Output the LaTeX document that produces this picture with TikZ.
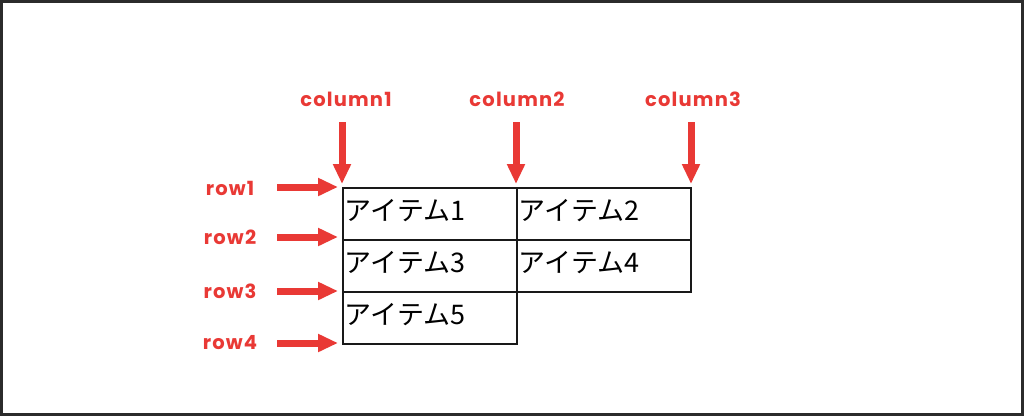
\documentclass[tikz,border=0pt]{standalone}
\usepackage{fontspec}
\newfontfamily\jpfont{Noto Sans CJK JP}
\newfontfamily\lblfont{Poppins}[LetterSpace=6]
\usetikzlibrary{arrows.meta}
\definecolor{lblred}{RGB}{233,57,53}
\definecolor{framegray}{RGB}{43,43,43}
\begin{document}
\begin{tikzpicture}[x=1pt,y=-1pt,
  cell/.style={draw=black!90, line width=1.8pt, minimum width=174pt, minimum height=52pt,
    text width=170pt, inner sep=2pt, align=left, anchor=north west,
    font=\jpfont\fontsize{27}{30}\selectfont},
  lbl/.style={text=lblred, font=\lblfont\bfseries\fontsize{19.5}{22}\selectfont, inner sep=0pt},
  redarrow/.style={draw=lblred, line width=7pt, -{Triangle[width=17pt,length=20pt]}}]
\useasboundingbox (0,0) rectangle (1024,416);
\fill[white] (0,0) rectangle (1024,416);
\draw[framegray, line width=3pt] (1.5,1.5) rectangle (1022.5,414.5);

% cells
\node[cell] (c1) at (342,187) {\raisebox{7pt}{アイテム1}};
\node[cell] (c2) at (516,187) {\raisebox{7pt}{アイテム2}};
\node[cell] (c3) at (342,239) {\raisebox{7pt}{アイテム3}};
\node[cell] (c4) at (516,239) {\raisebox{7pt}{アイテム4}};
\node[cell] (c5) at (342,291) {\raisebox{7pt}{アイテム5}};

% labels
\node[lbl] (col1) at (346,99) {column1};
\node[lbl] (col2) at (517,99) {column2};
\node[lbl] (col3) at (693,99) {column3};
\node[lbl] (row1) at (230,188) {row1};
\node[lbl] (row2) at (230,237) {row2};
\node[lbl] (row3) at (230,291) {row3};
\node[lbl] (row4) at (230,343) {row4};

% arrow tails
\coordinate (col1s) at (342,122);
\coordinate (col2s) at (516,122);
\coordinate (col3s) at (691,122);
\coordinate (row1s) at (277,187);
\coordinate (row2s) at (277,237);
\coordinate (row3s) at (277,291);
\coordinate (row4s) at (277,343);

% arrow heads
\coordinate (col1e) at ([yshift=3pt]col1s |- c1.north);
\coordinate (col2e) at ([yshift=3pt]col2s |- c2.north);
\coordinate (col3e) at ([yshift=3pt]col3s |- c2.north);
\coordinate (row1e) at ([xshift=-4pt]c1.west |- row1s);
\coordinate (row2e) at ([xshift=-4pt]c3.west |- row2s);
\coordinate (row3e) at ([xshift=-4pt]c5.west |- row3s);
\coordinate (row4e) at ([xshift=-4pt]c5.west |- row4s);

\draw[redarrow] (col1s) -- (col1e);
\draw[redarrow] (col2s) -- (col2e);
\draw[redarrow] (col3s) -- (col3e);
\draw[redarrow] (row1s) -- (row1e);
\draw[redarrow] (row2s) -- (row2e);
\draw[redarrow] (row3s) -- (row3e);
\draw[redarrow] (row4s) -- (row4e);
\end{tikzpicture}
\end{document}
